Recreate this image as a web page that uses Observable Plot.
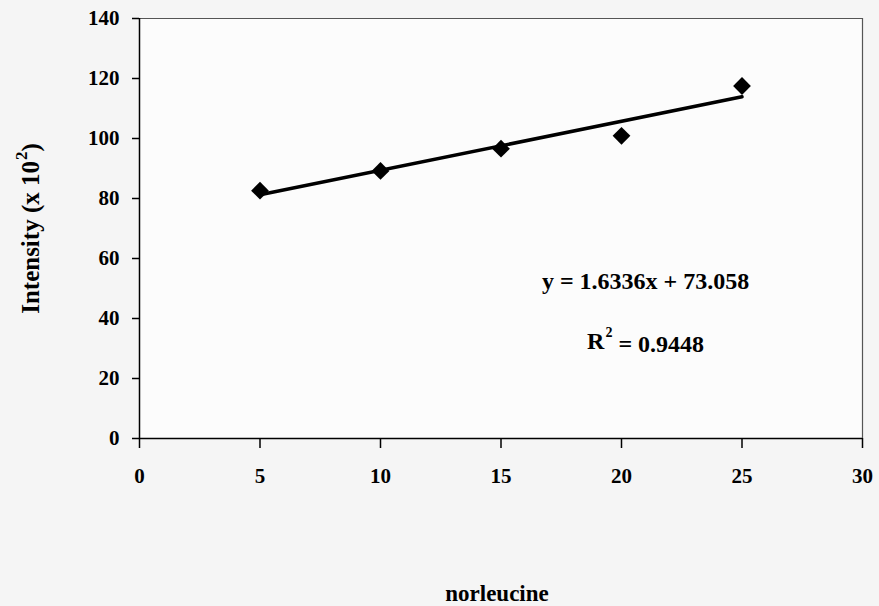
<!DOCTYPE html>
<html>
<head>
<meta charset="utf-8">
<script src="https://cdn.jsdelivr.net/npm/d3@7"></script>
<script src="https://cdn.jsdelivr.net/npm/@observablehq/plot@0.6"></script>
<style>
  html, body { margin: 0; padding: 0; background: #f5f5f5; }
  #chart svg { display: block; }
</style>
</head>
<body>
<div id="chart"></div>
<script>
// Data
const norleucine = [5, 10, 15, 20, 25];
const intensity = [82.6, 89.2, 96.6, 100.9, 117.5];
const slope = 1.6336;
const intercept = 73.058;
const r2 = 0.9448;
const xTicks = [0, 5, 10, 15, 20, 25, 30];
const yTicks = [0, 20, 40, 60, 80, 100, 120, 140];
const xLabel = "norleucine";
const yLabelMain = "Intensity (x 10";
const yLabelExp = "2";
const yLabelEnd = ")";
const eqText = `y = ${slope}x + ${intercept}`;
const r2Main = "R";
const r2Rest = ` = ${r2}`;
const eqPos = {x: 21.0, y: 52.5};
const r2Pos = {x: 21.0, y: 32.3};

const points = norleucine.map((x, i) => ({x, y: intensity[i]}));
const xMin = d3.min(norleucine), xMax = d3.max(norleucine);
const fit = [xMin, xMax].map(x => ({x, y: slope * x + intercept}));

const font = "'Liberation Serif', 'Times New Roman', serif";

const chart = Plot.plot({
  width: 879,
  height: 606,
  marginLeft: 139,
  marginRight: 17,
  marginTop: 18,
  marginBottom: 168,
  style: {fontFamily: font, fontWeight: "bold", fontSize: "21px", background: "#f5f5f5", color: "#000"},
  x: {domain: [0, 30], ticks: xTicks},
  y: {domain: [0, 140], ticks: yTicks},
  marks: [
    Plot.frame({fill: "#fcfcfc", stroke: "none"}),
    Plot.ruleY([140], {stroke: "#555", strokeWidth: 1.2}),
    Plot.ruleX([30], {stroke: "#555", strokeWidth: 1.2}),
    Plot.axisX({ticks: xTicks, tickSize: 10, tickPadding: 20, strokeWidth: 1.5, fontSize: 21,
      label: xLabel, labelAnchor: "center", labelArrow: "none", labelOffset: 162}),
    Plot.axisY({ticks: yTicks, tickSize: 7, tickPadding: 13, strokeWidth: 1.5, fontSize: 21,
      label: yLabelMain + "²)", labelAnchor: "center", labelArrow: "none", labelOffset: 118}),
    Plot.ruleX([0], {stroke: "#000", strokeWidth: 1.5}),
    Plot.ruleY([0], {stroke: "#000", strokeWidth: 1.5}),
    Plot.line(fit, {x: "x", y: "y", stroke: "#000", strokeWidth: 3.5}),
    Plot.dot(points, {x: "x", y: "y", symbol: "diamond2", r: 8, fill: "#000", stroke: "none"}),
    Plot.text([eqPos], {x: "x", y: "y", text: () => eqText, fontSize: 24, fontWeight: "bold", fill: "#000", className: "eq"}),
    Plot.text([r2Pos], {x: "x", y: "y", text: () => r2Main + "²" + r2Rest, fontSize: 24, fontWeight: "bold", fill: "#000", className: "r2"})
  ]
});

// Restyle labels: larger fonts and real superscripts
const svg = d3.select(chart);
svg.selectAll("text").each(function () {
  const t = d3.select(this);
  const s = t.text();
  if (s === yLabelMain + "²)") {
    t.attr("font-size", 25).text(null);
    t.append("tspan").text(yLabelMain);
    t.append("tspan").attr("font-size", 17).attr("dy", "-0.75em").attr("dx", "1").text(yLabelExp);
    t.append("tspan").attr("dy", "0.5em").text(yLabelEnd);
  } else if (s === xLabel) {
    t.attr("font-size", 23).attr("dx", -4);
  }
});
svg.selectAll(".r2 text").each(function () {
  const t = d3.select(this);
  t.text(null);
  t.append("tspan").text(r2Main);
  t.append("tspan").attr("font-size", 14).attr("dy", "-0.85em").attr("dx", "1").text(yLabelExp);
  t.append("tspan").attr("dy", "0.6em").text(r2Rest);
});
document.getElementById("chart").appendChild(chart);
</script>
</body>
</html>
